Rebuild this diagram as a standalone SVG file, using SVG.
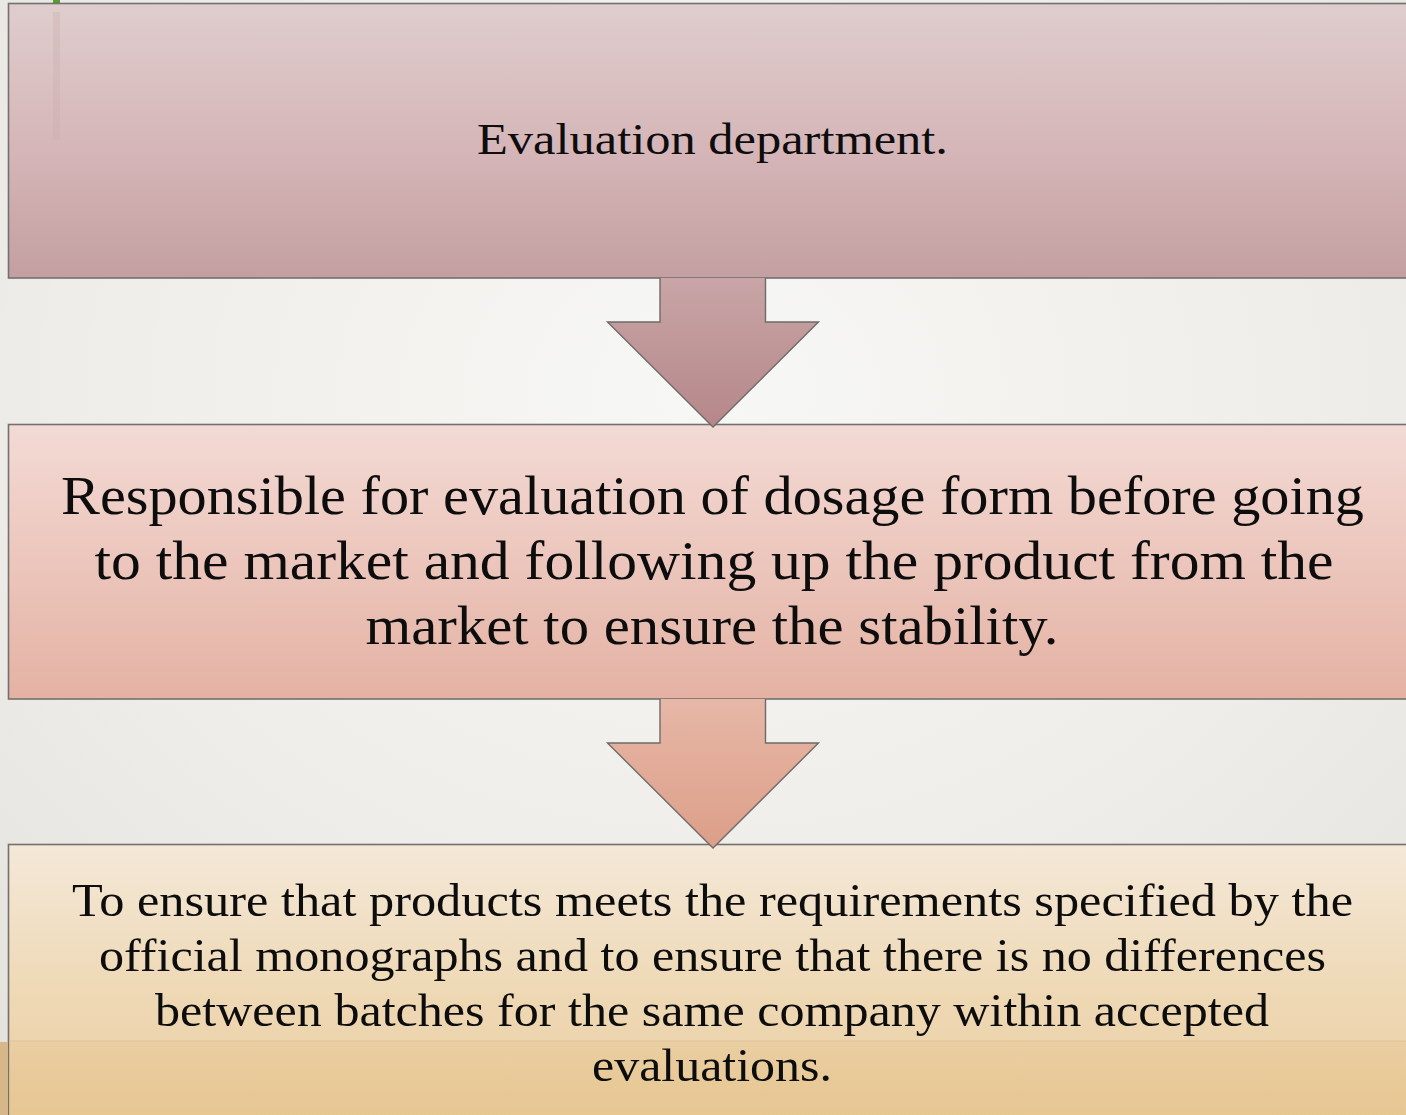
<svg xmlns="http://www.w3.org/2000/svg" width="1406" height="1115" viewBox="0 0 1406 1115">
  <defs>
    <radialGradient id="bg" cx="0.5" cy="0.35" r="0.75">
      <stop offset="0" stop-color="#f7f7f5"/>
      <stop offset="0.6" stop-color="#eeede9"/>
      <stop offset="1" stop-color="#e4e3de"/>
    </radialGradient>
    <linearGradient id="g1" x1="0" y1="0" x2="0" y2="1">
      <stop offset="0" stop-color="#dfcdcd"/>
      <stop offset="0.55" stop-color="#d5b5b7"/>
      <stop offset="1" stop-color="#c39fa1"/>
    </linearGradient>
    <linearGradient id="a1" x1="0" y1="0" x2="0" y2="1">
      <stop offset="0" stop-color="#c8a5a6"/>
      <stop offset="1" stop-color="#b6878a"/>
    </linearGradient>
    <linearGradient id="g2" x1="0" y1="0" x2="0" y2="1">
      <stop offset="0" stop-color="#f3dad5"/>
      <stop offset="0.5" stop-color="#ecc6bc"/>
      <stop offset="1" stop-color="#e4b2a3"/>
    </linearGradient>
    <linearGradient id="a2" x1="0" y1="0" x2="0" y2="1">
      <stop offset="0" stop-color="#e7b7a7"/>
      <stop offset="1" stop-color="#dc9f88"/>
    </linearGradient>
    <linearGradient id="g3" x1="0" y1="0" x2="0" y2="1">
      <stop offset="0" stop-color="#f4e8d8"/>
      <stop offset="0.55" stop-color="#eed8b4"/>
      <stop offset="1" stop-color="#e9cda0"/>
    </linearGradient>
    <linearGradient id="footer" x1="0" y1="0" x2="0" y2="1">
      <stop offset="0" stop-color="#e6c38d" stop-opacity="0.35"/>
      <stop offset="1" stop-color="#e5c187" stop-opacity="0.6"/>
    </linearGradient>
  </defs>
  <style>
    .box { stroke: #727070; stroke-width: 1.6; }
    .arrow { stroke: #6f6a6a; stroke-width: 1.4; stroke-linejoin: miter; }
    .label { font-family: "Liberation Serif", "DejaVu Serif", serif; fill: #0d0d0d; text-anchor: middle; }
  </style>

  <!-- page background -->
  <rect x="0" y="0" width="1406" height="1115" fill="url(#bg)"/>
  <rect x="53" y="0" width="7" height="3" fill="#5a9e2a"/>

  <!-- step 1 -->
  <g id="node-evaluation">
    <rect class="box" x="8.5" y="3.5" width="1410" height="274.5" fill="url(#g1)"/>
    <rect x="53" y="12" width="7" height="128" fill="#c9aeae" opacity="0.35"/>
    <text class="label" x="712.5" y="154" font-size="45" textLength="471" lengthAdjust="spacingAndGlyphs">Evaluation department.</text>
  </g>

  <!-- step 2 -->
  <g id="node-responsible">
    <rect class="box" x="8.5" y="424.5" width="1410" height="274.5" fill="url(#g2)"/>
    <text class="label" x="712.5" y="514" font-size="55" textLength="1303" lengthAdjust="spacingAndGlyphs">Responsible for evaluation of dosage form before going</text>
    <text class="label" x="714" y="579" font-size="55" textLength="1239" lengthAdjust="spacingAndGlyphs">to the market and following up the product from the</text>
    <text class="label" x="712" y="644" font-size="55" textLength="693" lengthAdjust="spacingAndGlyphs">market to ensure the stability.</text>
  </g>

  <!-- step 3 -->
  <g id="node-ensure">
    <rect class="box" x="8.5" y="844.5" width="1410" height="280" fill="url(#g3)"/>
    <rect x="9" y="1041" width="1400" height="74" fill="url(#footer)"/>
    <line x1="9" y1="1041" x2="1406" y2="1041" stroke="#dcc39c" stroke-width="1"/>
    <rect x="0" y="1042" width="8" height="73" fill="#d6b888"/>
    <text class="label" x="712.5" y="916" font-size="47" textLength="1281" lengthAdjust="spacingAndGlyphs">To ensure that products meets the requirements specified by the</text>
    <text class="label" x="712.5" y="971" font-size="47" textLength="1227" lengthAdjust="spacingAndGlyphs">official monographs and to ensure that there is no differences</text>
    <text class="label" x="712" y="1026" font-size="47" textLength="1114" lengthAdjust="spacingAndGlyphs">between batches for the same company within accepted</text>
    <text class="label" x="712" y="1081" font-size="47" textLength="240" lengthAdjust="spacingAndGlyphs">evaluations.</text>
  </g>

  <!-- down arrows between steps -->
  <g id="connectors">
    <path class="arrow" fill="url(#a1)" d="M660,278 L660,322 L607.5,322 L713,427 L818.5,322 L765.5,322 L765.5,278"/>
    <path class="arrow" fill="url(#a2)" d="M660,699 L660,743 L607.5,743 L713,848 L818.5,743 L765.5,743 L765.5,699"/>
  </g>
</svg>
